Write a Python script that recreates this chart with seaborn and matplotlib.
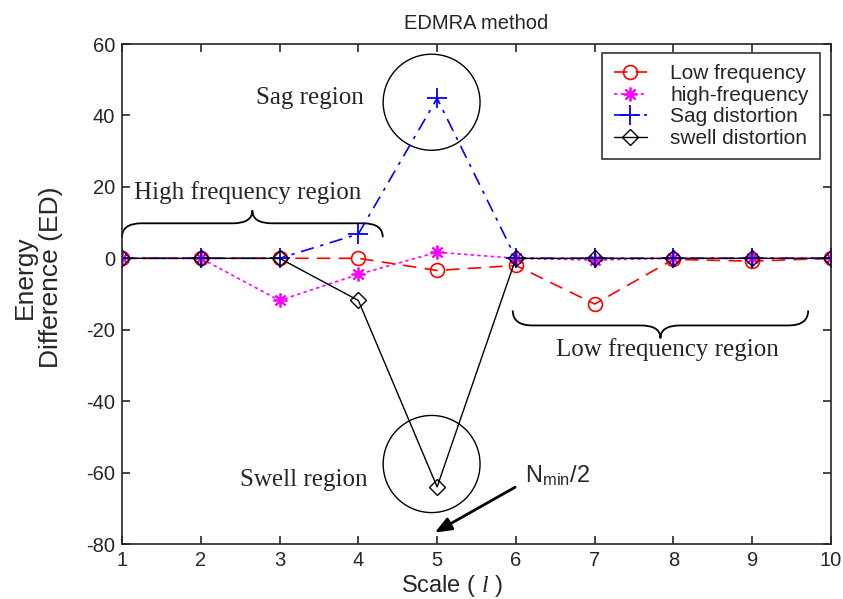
import matplotlib
matplotlib.use("Agg")
import matplotlib.pyplot as plt
from matplotlib.patches import Ellipse, PathPatch
from matplotlib.path import Path
import seaborn as sns

# data
scale = [1, 2, 3, 4, 5, 6, 7, 8, 9, 10]
low_freq = [0, 0, 0, 0, -3.4, -2, -12.8, -0.3, -0.8, 0]
high_freq = [0, 0, -11.8, -4.5, 1.7, 0, -0.5, 0, 0, 0]
sag = [0, 0, 0, 6.8, 44.8, 0, 0, 0, 0, 0]
swell = [0, 0, 0, -11.8, -64.0, 0, 0, 0, 0, 0]

sns.set_style("ticks")
plt.rcParams['font.family'] = ['Liberation Sans', 'DejaVu Sans']
plt.rcParams['mathtext.fontset'] = 'custom'
plt.rcParams['mathtext.rm'] = 'Liberation Sans'
plt.rcParams['mathtext.it'] = 'Liberation Serif:italic'
plt.rcParams['axes.unicode_minus'] = False

fig = plt.figure(figsize=(8.43, 5.99), dpi=100)
ax = fig.add_axes([0.1447, 0.0918, 0.8411, 0.8347])

sns.lineplot(x=scale, y=low_freq, ax=ax, color='red', linestyle=(0, (8, 5)), lw=1.2,
             marker='o', markersize=10, markerfacecolor='none', markeredgecolor='red',
             markeredgewidth=1.2, label='Low frequency')
sns.lineplot(x=scale, y=high_freq, ax=ax, color='magenta', linestyle=(0, (2, 2)), lw=1.2,
             marker=(8, 2, 0), markersize=10, markeredgewidth=1.3, markeredgecolor='magenta',
             label='high-frequency')
sns.lineplot(x=scale, y=sag, ax=ax, color='blue', linestyle=(0, (8, 4, 2, 4)), lw=1.2,
             marker='+', markersize=14, markeredgewidth=1.3, markeredgecolor='blue',
             label='Sag distortion')
sns.lineplot(x=scale, y=swell, ax=ax, color='black', linestyle='-', lw=1.0,
             marker='D', markersize=8, markerfacecolor='none', markeredgecolor='black',
             markeredgewidth=1.0, label='swell distortion')

ax.set_xlim(1, 10)
ax.set_ylim(-80, 60)
ax.set_xticks(range(1, 11))
ax.set_yticks(range(-80, 61, 20))
ax.tick_params(direction='in', top=True, right=True, labelsize=14.5, length=6, width=1.2, pad=5)
for s in ax.spines.values():
    s.set_linewidth(1.2)
    s.set_visible(True)

ax.set_title('EDMRA method', fontsize=14.5, pad=11)
ax.set_xlabel('Scale ( $\\mathit{l}$ )', fontsize=17)
ax.xaxis.set_label_coords(0.465, -0.058)
ax.set_ylabel('Energy\nDifference (ED)', fontsize=19, linespacing=1.1)
ax.yaxis.set_label_coords(-0.083, 0.534)

leg = ax.legend(loc='upper right', bbox_to_anchor=(0.9845, 0.982), borderaxespad=0,
                fontsize=15, frameon=True, fancybox=False, edgecolor='black',
                handlelength=1.6, handletextpad=1.1, borderpad=0.55, labelspacing=0.12)
leg.get_frame().set_linewidth(1.2)

# circles
ax.add_patch(Ellipse((4.93, 43.7), 1.23, 26.9, fill=False, ec='black', lw=1.0))
ax.add_patch(Ellipse((4.93, -57.6), 1.23, 27.2, fill=False, ec='black', lw=1.0))


def brace(x0, x1, y_end, y_line, y_tip, dx):
    mid = (x0 + x1) / 2
    verts = [(x0, y_end), (x0, y_line), (x0 + dx, y_line),
             (mid - dx, y_line),
             (mid, y_line), (mid, y_tip),
             (mid, y_line), (mid + dx, y_line),
             (x1 - dx, y_line),
             (x1, y_line), (x1, y_end)]
    codes = [Path.MOVETO, Path.CURVE3, Path.CURVE3, Path.LINETO,
             Path.CURVE3, Path.CURVE3, Path.CURVE3, Path.CURVE3,
             Path.LINETO, Path.CURVE3, Path.CURVE3]
    ax.add_patch(PathPatch(Path(verts, codes), fill=False, ec='black', lw=1.3,
                           clip_on=False))


brace(1.0, 4.31, 5.9, 9.8, 13.4, 0.25)
brace(5.96, 9.71, -14.6, -18.8, -22.4, 0.25)

serif = ['Liberation Serif', 'DejaVu Serif']
ax.text(3.38, 45.0, 'Sag region', family=serif, fontsize=18, ha='center', va='center')
ax.text(2.59, 18.5, 'High frequency region', family=serif, fontsize=18, ha='center', va='center')
ax.text(7.92, -25.6, 'Low frequency region', family=serif, fontsize=18, ha='center', va='center')
ax.text(3.31, -62.0, 'Swell region', family=serif, fontsize=18, ha='center', va='center')
ax.text(6.53, -61.0, 'N$_{\\mathrm{min}}$/2', fontsize=17, ha='center', va='center')
ax.annotate('', xy=(4.97, -76.8), xytext=(5.99, -64.1),
            arrowprops=dict(arrowstyle='-|>,head_length=1.0,head_width=0.4',
                            color='black', lw=2, shrinkA=0, shrinkB=0))

fig.savefig('out.png', dpi=100)
